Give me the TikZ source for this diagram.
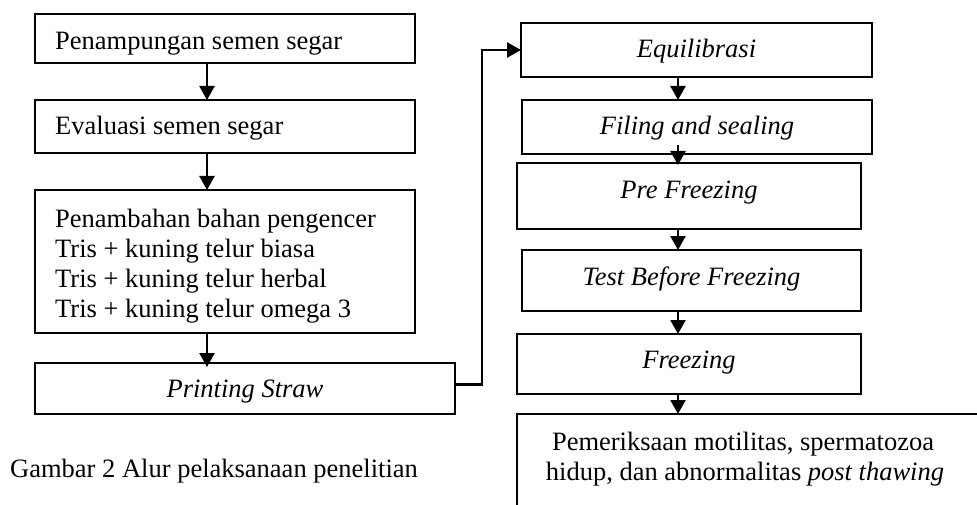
\documentclass[tikz,border=0pt]{standalone}
\usepackage{fontspec}
\setmainfont{Liberation Serif}
\usetikzlibrary{arrows.meta,calc}
\tikzset{
  box/.style={draw, line width=2.4pt, inner sep=0pt, outer sep=0pt, rectangle},
  txt/.style={inner sep=0pt, font=\fontsize{26.5}{30}\selectfont},
  arr/.style={line width=2.5pt, -{Triangle[width=15pt,length=14pt]}},
}
\begin{document}
\begin{tikzpicture}[x=1pt,y=-1pt]
\useasboundingbox (0,0) rectangle (977,505);
\clip (0,0) rectangle (977,505);
\coordinate (ax) at (207,0);
\coordinate (bx) at (678,0);
% left column
\node[box, minimum width=380pt, minimum height=49pt] (b1) at (225,38.5) {};
\node[box, minimum width=380pt, minimum height=53pt] (b2) at (225,126.5) {};
\node[box, minimum width=380pt, minimum height=143pt] (b3) at (225,261.5) {};
\node[box, minimum width=420pt, minimum height=51pt] (b4) at (245,388.5) {};
% right column
\node[box, minimum width=351pt, minimum height=54pt] (b5) at (696.5,50) {};
\node[box, minimum width=350pt, minimum height=54pt] (b6) at (697,127) {};
\node[box, minimum width=344pt, minimum height=66pt] (b7) at (689,196) {};
\node[box, minimum width=339pt, minimum height=61pt] (b8) at (691.5,280.5) {};
\node[box, minimum width=344pt, minimum height=60pt] (b9) at (689,364) {};
\node[box, minimum width=540pt, minimum height=200pt] (b10) at (787,514) {};
% texts
\node[txt, anchor=base west] (t1) at (55,50) {Penampungan semen segar};
\node[txt, anchor=base west] (t2) at (55,135) {Evaluasi semen segar};
\node[txt, anchor=base west] (t3a) at (55,227) {Penambahan bahan pengencer};
\node[txt, anchor=base west] (t3b) at (55,257) {Tris + kuning telur biasa};
\node[txt, anchor=base west] (t3c) at (55,287) {Tris + kuning telur herbal};
\node[txt, anchor=base west] (t3d) at (55,317) {Tris + kuning telur omega 3};
\node[txt, anchor=base] (t4) at (245,397) {\itshape Printing Straw};
\node[txt, anchor=base] (t5) at (696.5,58) {\itshape Equilibrasi};
\node[txt, anchor=base] (t6) at (697,135) {\itshape Filing and sealing};
\node[txt, anchor=base] (t7) at (689,199) {\itshape Pre Freezing};
\node[txt, anchor=base] (t8) at (691.5,285) {\itshape Test Before Freezing};
\node[txt, anchor=base] (t9) at (689,368) {\itshape Freezing};
\node[txt, anchor=base] (t10a) at (743,450) {Pemeriksaan motilitas, spermatozoa};
\node[txt, anchor=base] (t10b) at (745,480) {hidup, dan abnormalitas \textit{post thawing}};
\node[txt, anchor=base west] (cap) at (10,477) {Gambar 2 Alur pelaksanaan penelitian};
% connectors
\draw[arr] (b1.south -| ax) -- (b2.north -| ax);
\draw[arr] (b2.south -| ax) -- (b3.north -| ax);
\draw[arr] (b3.south -| ax) -- ($(b4.north -| ax)+(0,4)$);
\draw[arr] ($(b4.east)+(0,-4)$) -- ++(27,0) |- (b5.west);
\draw[arr] (b5.south -| bx) -- (b6.north -| bx);
\draw[arr] ($(b6.south -| bx)+(0,-9)$) -- ($(b7.north -| bx)+(0,2)$);
\draw[arr] (b7.south -| bx) -- (b8.north -| bx);
\draw[arr] (b8.south -| bx) -- (b9.north -| bx);
\draw[arr] (b9.south -| bx) -- (b10.north -| bx);
\end{tikzpicture}
\end{document}
